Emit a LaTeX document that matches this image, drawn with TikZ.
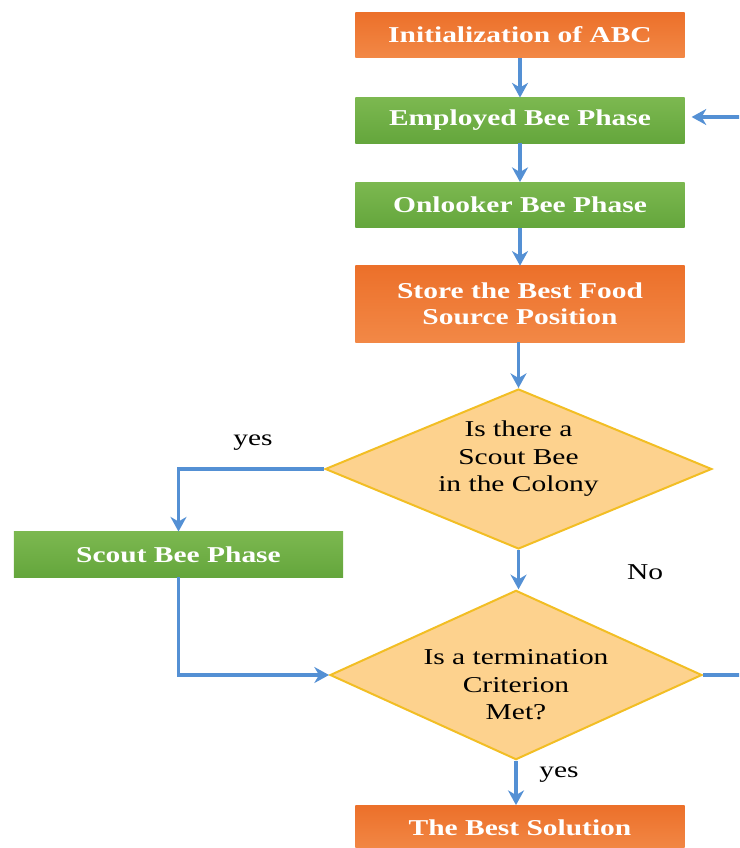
\documentclass[tikz,border=0pt]{standalone}
\usepackage{fontspec}
\setmainfont{Liberation Serif}[FakeStretch=1.3]
\usetikzlibrary{shapes.geometric,arrows.meta}

\definecolor{phaseOrangeTop}{RGB}{236,112,42}
\definecolor{phaseOrangeBot}{RGB}{242,136,70}
\definecolor{phaseGreenTop}{RGB}{124,184,80}
\definecolor{phaseGreenBot}{RGB}{100,166,60}
\definecolor{decisionFill}{RGB}{253,210,142}
\definecolor{decisionLine}{RGB}{242,190,36}
\definecolor{flowBlue}{RGB}{84,144,212}

\tikzset{
  phase/.style={rectangle, inner sep=0pt, minimum width=247pt, minimum height=34pt,
    text=white, align=center, font=\fontsize{17}{19.5}\selectfont\bfseries},
  orangephase/.style={phase, top color=phaseOrangeTop, bottom color=phaseOrangeBot},
  greenphase/.style={phase, top color=phaseGreenTop, bottom color=phaseGreenBot},
  decision/.style={diamond, draw=decisionLine, fill=decisionFill, line width=1.5pt,
    inner sep=0pt, font=\fontsize{17}{20.6}\selectfont},
  flow/.style={draw=flowBlue, line width=2.3pt, -{Stealth[length=11pt,width=12pt,inset=3.5pt]}},
  flowlabel/.style={inner sep=0.75pt, font=\fontsize{17}{20.6}\selectfont}
}

\begin{document}
\begin{tikzpicture}[x=0.75pt,y=0.75pt,yscale=-1,xscale=1]
\useasboundingbox (0,0) rectangle (739,848);
\clip (0,0) rectangle (739,848);

%Shape: Rectangle [phases]
\node (init) at (520,35) [orangephase] {Initialization of ABC};
\node (employed) at (520,120.5) [greenphase] {Employed Bee Phase};
\node (onlooker) at (520,205) [greenphase] {Onlooker Bee Phase};
\node (store) at (520,304) [orangephase, minimum height=57pt] {Store the Best Food\\Source Position};
\node (scout) at (178.5,554.5) [greenphase] {Scout Bee Phase};
\node (best) at (520,828) [orangephase] {The Best Solution};

%Shape: Diamond [decisions]
\node (scoutq) at (518.5,469) [decision, minimum width=290pt, minimum height=120pt]
  {\makebox[0pt]{\raisebox{3.5pt}[0pt][0pt]{\begin{tabular}{@{}c@{}}Is there a\\Scout Bee\\in the Colony\end{tabular}}}};
\node (stopq) at (516,675) [decision, minimum width=279pt, minimum height=127pt]
  {\makebox[0pt]{\raisebox{-13pt}[0pt][0pt]{\begin{tabular}{@{}c@{}}Is a termination\\Criterion\\Met?\end{tabular}}}};

% Text Node
\node (yesscout) at (253,443) [flowlabel] {yes};
% Text Node
\node (noscout) at (645,572) [flowlabel] {No};
% Text Node
\node (yesstop) at (538,775) [flowlabel, anchor=west] {yes};

%Straight Lines [main flow]
\draw [flow] (init) -- (employed);
\draw [flow] (employed) -- (onlooker);
\draw [flow] (onlooker) -- (store);
\draw [flow] (store.south -| scoutq.north) -- (scoutq.north);
\draw [flow] (scoutq.south) -- (scoutq.south |- stopq.north);
\draw [flow] (stopq.south) -- (stopq.south |- best.north);

%Straight Lines [yes branch]
\draw [flow] (scoutq.west) -| (scout.north);
\draw [flow] (scout.south) |- (stopq.west);

%Straight Lines [loop back]
\coordinate (loopdown) at (760,675);
\coordinate (loopup) at (760,117);
\draw [flow, shorten >=5pt] (stopq.east) -- (loopdown) -- (loopup) -- (employed.east |- loopup);
\end{tikzpicture}
\end{document}
